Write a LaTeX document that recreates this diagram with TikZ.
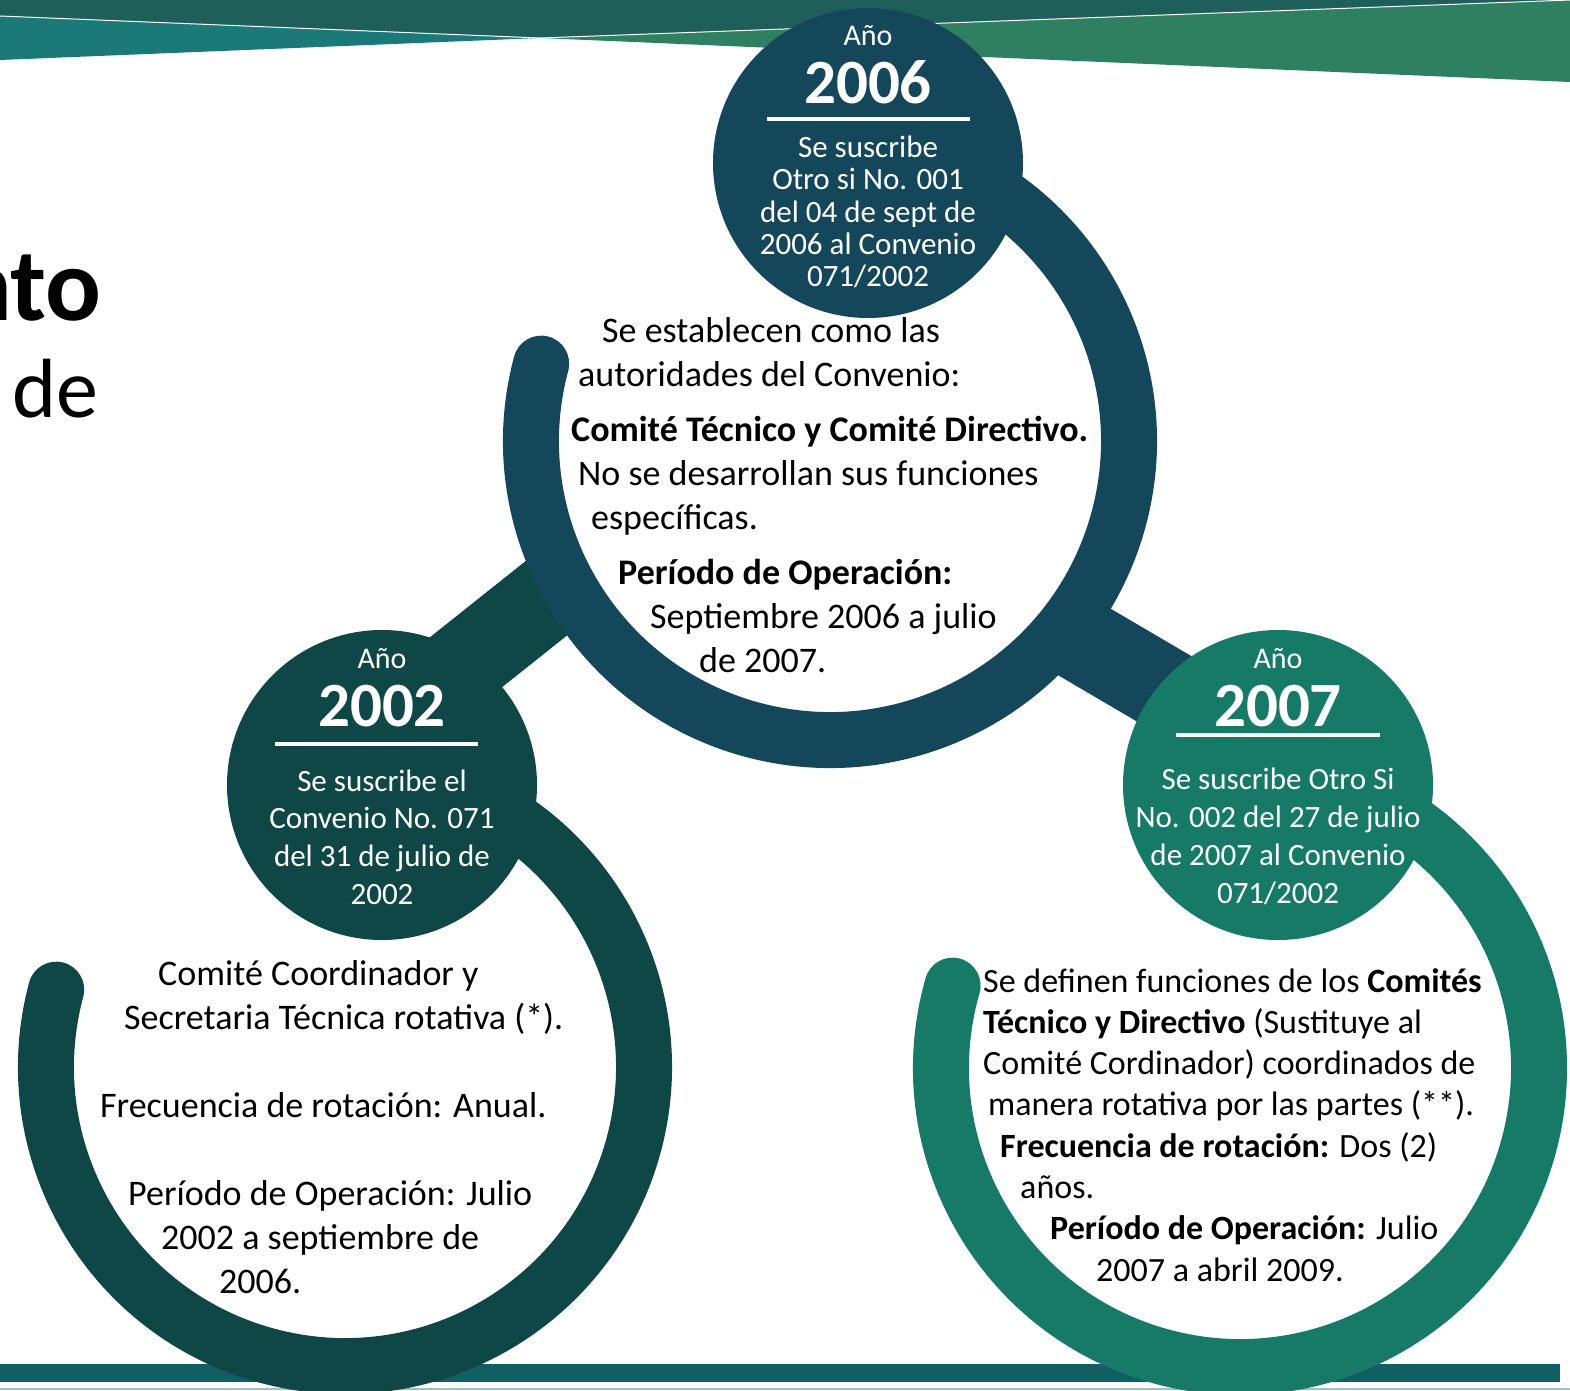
\documentclass[tikz,border=0pt]{standalone}
\usepackage{fontspec}
\setmainfont{Carlito}
\usepackage{tikz}
\usetikzlibrary{positioning,calc}
\usepackage{xcolor}

\definecolor{bandDark}{HTML}{1F5F5A}
\definecolor{bandTeal}{HTML}{1B7A78}
\definecolor{bandGreen}{HTML}{2F7F61}
\definecolor{ringA}{HTML}{0F4646}
\definecolor{ringB}{HTML}{15475B}
\definecolor{ringC}{HTML}{177A66}
\definecolor{footBar}{HTML}{135E62}
\definecolor{footLine}{HTML}{9FC2BF}

\begin{document}
\begin{tikzpicture}[x=1pt,y=-1pt,
    ring/.style={line width=56pt, line cap=round},
    bar/.style={line width=84pt},
    yearball/.style={circle, minimum size=310pt, inner sep=0pt},
    anno/.style={text=white, inner sep=0pt, font=\fontsize{30}{34}\selectfont},
    yearnum/.style={text=white, inner sep=0pt, font=\bfseries\fontsize{63}{68}\selectfont},
    balltext/.style={text=white, align=center, inner sep=0pt},
    bodytext/.style={anchor=north west, align=left, inner sep=0pt}]

    \useasboundingbox (0,0) rectangle (1570,1390);

    % banner
    \fill[bandDark] (0,0) -- (1570,0) -- (540,38) -- (0,16) -- cycle;
    \fill[bandTeal] (0,16) -- (540,38) -- (0,60) -- cycle;
    \fill[bandGreen] (540,38) -- (1570,0) -- (1570,82) -- cycle;
    \draw[white, line width=1pt] (0,16) -- (540,38) -- (1570,0);

    \node[anchor=base east, inner sep=0pt, font=\bfseries\fontsize{104}{110}\selectfont] (ttl) at (102,320) {nto};
    \node[anchor=base west, inner sep=0pt, font=\fontsize{84}{90}\selectfont] (ttlb) at (12,417) {de};

    % footer
    \fill[footBar] (0,1364) rectangle (1560,1382);
    \draw[footLine, line width=1.5pt] (0,1389) -- (1570,1389);

    % links between the rings
    \coordinate (g1) at (411,706);
    \coordinate (g2) at (568,581);
    \coordinate (b1) at (1064,630);
    \coordinate (b2) at (1219,721);
    \draw[bar, ringA] (g1) -- (g2);
    \draw[bar, ringB] (b1) -- (b2);

    % rings
    \coordinate (r02) at (345,1067);
    \coordinate (r06) at (830,441);
    \coordinate (r07) at (1240,1068);
    \draw[ring, ringA] (r02) ++(165:299pt) arc[start angle=165, end angle=425, radius=299pt];
    \draw[ring, ringB] (r06) ++(165:299pt) arc[start angle=165, end angle=425, radius=299pt];
    \draw[ring, ringC] (r07) ++(164:299pt) arc[start angle=164, end angle=425, radius=299pt];

    % year circles
    \node[yearball, fill=ringA] (c02) at (382,785) {};
    \node[yearball, fill=ringB] (c06) at (868,163) {};
    \node[yearball, fill=ringC] (c07) at (1278,785) {};

    \node[anno] (a06) at (868,36) {Año};
    \node[yearnum] (y06) at (868,82) {2006};
    \draw[white, line width=4pt] (767,119) -- (970,119);
    \node[balltext, font=\fontsize{31}{32.3}\selectfont] (t06) at (868,212) {Se suscribe\\Otro si No. 001\\del 04 de sept de\\2006 al Convenio\\071/2002};

    \node[anno] (a02) at (382,659) {Año};
    \node[yearnum] (y02) at (382,706) {2002};
    \draw[white, line width=4pt] (275,744) -- (478,744);
    \node[balltext, font=\fontsize{31}{37.7}\selectfont] (t02) at (382,837) {Se suscribe el\\Convenio No. 071\\del 31 de julio de\\2002};

    \node[anno] (a07) at (1278,659) {Año};
    \node[yearnum] (y07) at (1278,706) {2007};
    \draw[white, line width=4pt] (1176,735) -- (1380,735);
    \node[balltext, font=\fontsize{31}{38}\selectfont] (t07) at (1278,836) {Se suscribe Otro Si\\No. 002 del 27 de julio\\de 2007 al Convenio\\071/2002};

    % texts inside the rings
    \node[bodytext, font=\fontsize{36}{44}\selectfont] (d06) at (571,317) {
        \hspace*{31pt}Se establecen como las\\
        \hspace*{7pt}autoridades del Convenio:\\[11pt]
        \textbf{Comité Técnico y Comité Directivo.}\\
        \hspace*{7pt}No se desarrollan sus funciones\\
        \hspace*{20pt}específicas.\\[11pt]
        \hspace*{47pt}\textbf{Período de Operación:}\\
        \hspace*{79pt}Septiembre 2006 a julio\\
        \hspace*{128pt}de 2007.
    };

    \node[bodytext, font=\fontsize{36}{44}\selectfont] (d02) at (100,960) {
        \hspace*{58pt}Comité Coordinador y\\
        \hspace*{24pt}Secretaria Técnica rotativa (*).\\[44pt]
        Frecuencia de rotación: Anual.\\[44pt]
        \hspace*{28pt}Período de Operación: Julio\\
        \hspace*{61pt}2002 a septiembre de\\
        \hspace*{119pt}2006.
    };

    \node[bodytext, font=\fontsize{34}{41.3}\selectfont] (d07) at (983,968) {
        Se definen funciones de los \textbf{Comités}\\
        \textbf{Técnico y Directivo} (Sustituye al\\
        Comité Cordinador) coordinados de\\
        \hspace*{5pt}manera rotativa por las partes (**).\\
        \hspace*{17pt}\textbf{Frecuencia de rotación:} Dos (2)\\
        \hspace*{37pt}años.\\
        \hspace*{67pt}\textbf{Período de Operación:} Julio\\
        \hspace*{113pt}2007 a abril 2009.
    };
\end{tikzpicture}
\end{document}
